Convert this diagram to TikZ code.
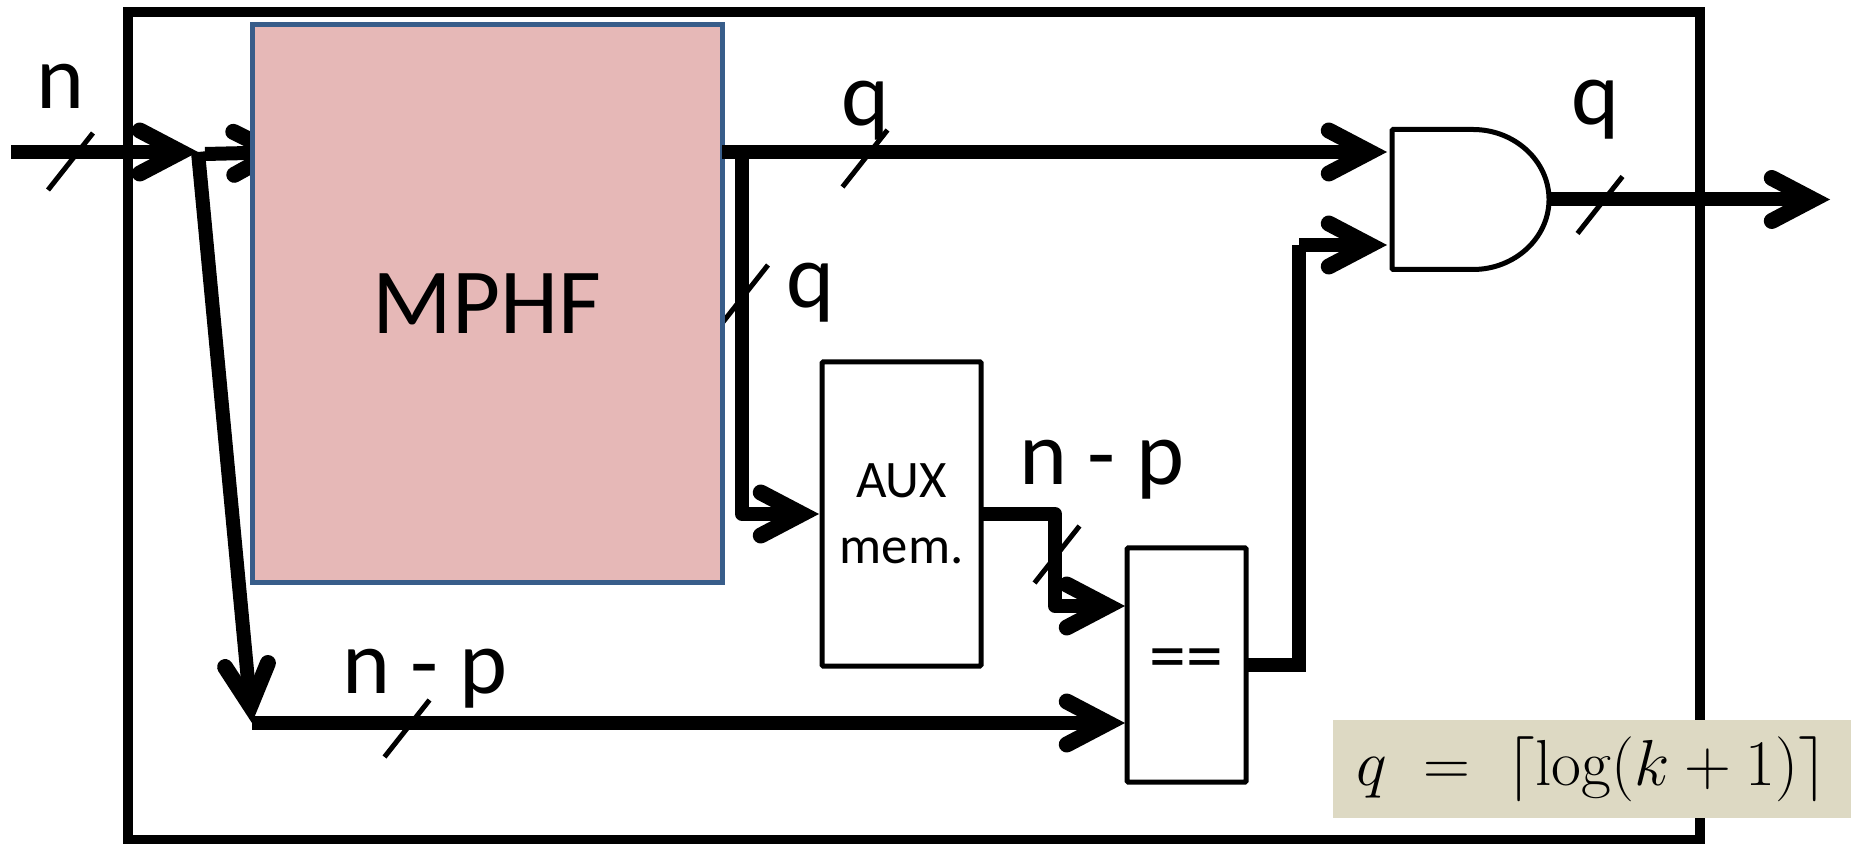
\documentclass[tikz,border=0pt]{standalone}
\usepackage{fix-cm}
\usepackage{amsmath}
\usepackage[no-math]{fontspec}
\setmainfont{Carlito}
\usepackage{xcolor}
\usetikzlibrary{arrows.meta,positioning,calc}
\definecolor{mBlue}{HTML}{385D8A}
\definecolor{mPink}{HTML}{E6B8B7}
\definecolor{mSand}{HTML}{DDD9C3}
\tikzset{
  block/.style={draw=black, fill=white, line width=0.5mm, rounded corners=0.3pt, align=center,
                inner sep=0pt, outer sep=0pt},
  wire/.style={line width=1.4mm, line join=round},
  arr/.style={wire, -{Straight Barb[length=4.1mm, width=4.3mm, line width=1.6mm, line cap=round, line join=miter]}},
  slash/.style={line width=0.5mm},
  lbl/.style={font=\fontsize{26}{30}\selectfont, anchor=base, inner sep=0pt},
}
\begin{document}
\begin{tikzpicture}
    \useasboundingbox (0,0) rectangle (18.54,8.43);
    \node[draw, line width=1mm, inner sep=0pt, outer sep=0pt, minimum width=15.72cm,
      minimum height=8.28cm] (chip) at (9.14,4.17) {};
    \coordinate (inport) at (0.11,6.91);
    \coordinate (fork) at (1.98,6.91);
    \coordinate (forkb) at (2.05,6.89);
    \coordinate (hashin) at (2.92,6.91);
    \coordinate (turn) at (2.52,1.20);
    \coordinate (eqa) at (11.25,2.37);
    \coordinate (eqb) at (11.25,1.20);
    \coordinate (anda) at (13.87,6.91);
    \coordinate (andb) at (13.87,5.98);
    \coordinate (tapa) at (7.42,6.91);
    \coordinate (auxin) at (8.19,3.29);
    \coordinate (auxbend) at (10.55,3.29);
    \coordinate (andbend) at (12.99,5.98);
    \coordinate (outport) at (18.30,6.435);
    \foreach \x/\y in {0.705/6.815, 8.65/6.845, 7.455/5.495, 4.07/1.145, 10.57/2.885, 16.0/6.38}
      \draw[slash] (\x+0.225,\y+0.285) -- (\x-0.225,\y-0.285);
    \draw[arr] (inport) -- (fork);
    \draw[arr] (forkb) -- (hashin);
    \draw[arr] (fork) -- (turn);
    \draw[arr] (turn) -- (eqb);
    \node[block, draw=mBlue, fill=mPink, rounded corners=0pt, font=\fontsize{26.5}{30}\selectfont,
      minimum width=4.70cm, minimum height=5.58cm] (mphf) at (4.87,5.39) {\raisebox{-0.6mm}{MPHF}};
    \node[block, minimum width=1.59cm, minimum height=3.04cm, font=\fontsize{15}{18.8}\selectfont]
      (aux) at (9.015,3.29) {AUX\\mem.};
    \node[block, minimum width=1.19cm, minimum height=2.34cm, font=\fontsize{21}{24}\selectfont]
      (eq) at (11.865,1.78) {\raisebox{-1mm}{==}};
    \node[minimum width=1.57cm, minimum height=1.40cm, inner sep=0pt, outer sep=0pt]
      (gate) at (14.705,6.435) {};
    \draw[block] (gate.south west) -- (gate.north west) -- ++(0.80,0)
      arc[start angle=90, end angle=-90, x radius=0.77, y radius=0.70] -- cycle;
    \draw[arr] (mphf.east |- anda) -- (anda);
    \draw[arr] (tapa) |- (auxin);
    \draw[arr] (aux.east) -- (auxbend) |- (eqa);
    \draw[wire, line join=miter] (eq.east) -| (andbend);
    \draw[arr] (andbend) -- (andb);
    \draw[arr] (gate.east) -- (outport);
    \node[lbl] (nin) at (0.61,7.34) {n};
    \node[lbl] (qtop) at (8.65,7.17) {q};
    \node[lbl] (qmid) at (8.10,5.35) {q};
    \node[lbl] (qout) at (15.95,7.18) {q};
    \node[lbl] (npaux) at (11.02,3.58) {n - p};
    \node[lbl] (npin) at (4.25,1.49) {n - p};
    \node[fill=mSand, inner sep=0pt, minimum width=5.18cm, minimum height=0.98cm,
      font=\fontsize{18.5}{22}\selectfont] (formula) at (15.92,0.74)
      {$q\;=\;\lceil\log(k+1)\rceil$};
\end{tikzpicture}
\end{document}
